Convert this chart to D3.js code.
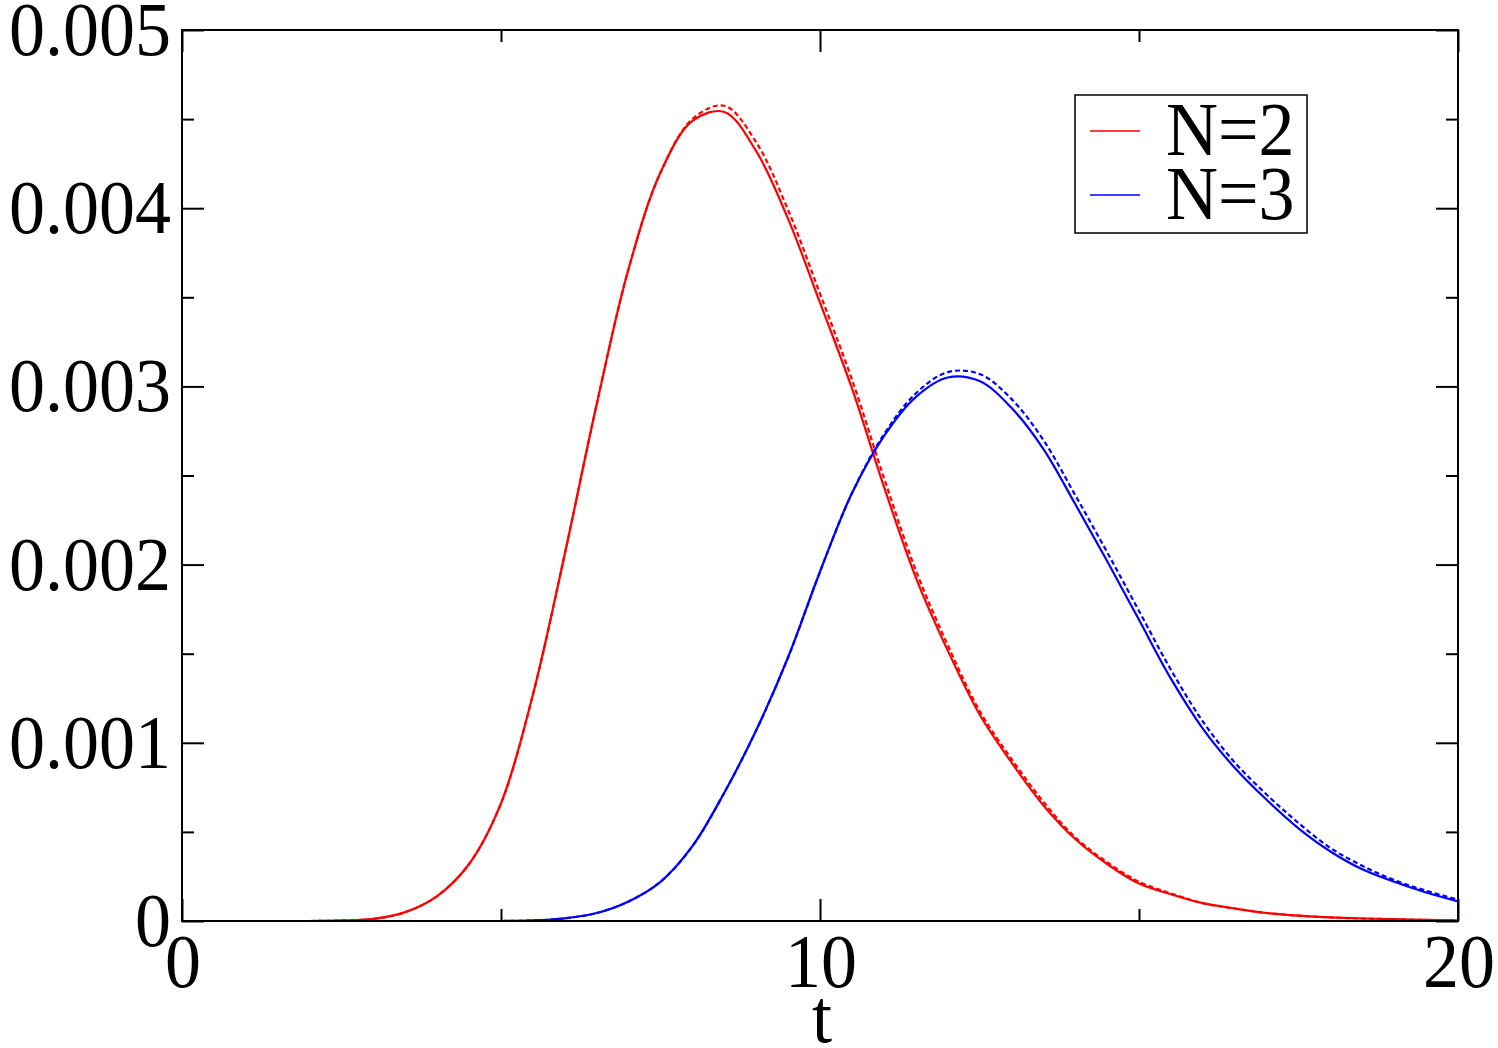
<!DOCTYPE html>
<html>
<head>
<meta charset="utf-8">
<script src="https://cdn.jsdelivr.net/npm/d3@7"></script>
<style>
  html, body { margin: 0; padding: 0; background: #fff; }
  svg { display: block; }
</style>
</head>
<body>
<div id="chart"></div>
<script>
// time grid (t) shared by all curves
const tValues = [0, 1, 2, 2.5, 3, 3.5, 4, 4.5, 5, 5.5, 6, 6.5, 7, 7.5, 8, 8.5, 9, 9.5, 10,
  10.5, 11, 11.5, 12, 12.5, 13, 13.5, 14, 14.5, 15, 15.5, 16, 16.5, 17, 17.5, 18, 18.5, 19, 19.5, 20];

// values in units of 1e-3
const n2Solid = [0, 0, 0, 0.003, 0.012, 0.05, 0.14, 0.32, 0.66, 1.27, 2.06, 2.9, 3.66, 4.2, 4.49, 4.54, 4.32, 3.94, 3.47,
  2.99, 2.44, 1.93, 1.52, 1.16, 0.89, 0.65, 0.46, 0.32, 0.21, 0.15, 0.1, 0.07, 0.045, 0.03, 0.02, 0.014, 0.01, 0.006, 0.004];
const n2Dashed = [0, 0, 0, 0.003, 0.012, 0.05, 0.14, 0.32, 0.66, 1.27, 2.06, 2.9, 3.66, 4.2, 4.5, 4.575, 4.37, 3.99, 3.52,
  3.04, 2.49, 1.97, 1.55, 1.18, 0.91, 0.67, 0.47, 0.33, 0.22, 0.155, 0.1, 0.07, 0.045, 0.03, 0.02, 0.014, 0.01, 0.006, 0.004];
const n3Solid = [0, 0, 0, 0, 0, 0, 0, 0, 0, 0.003, 0.015, 0.045, 0.11, 0.22, 0.42, 0.72, 1.07, 1.48, 1.96,
  2.4, 2.72, 2.94, 3.05, 3.03, 2.88, 2.65, 2.34, 2.02, 1.69, 1.36, 1.08, 0.86, 0.68, 0.52, 0.39, 0.29, 0.22, 0.16, 0.11];
const n3Dashed = [0, 0, 0, 0, 0, 0, 0, 0, 0, 0.003, 0.015, 0.045, 0.11, 0.22, 0.42, 0.72, 1.07, 1.48, 1.96,
  2.4, 2.73, 2.96, 3.08, 3.07, 2.93, 2.7, 2.39, 2.07, 1.74, 1.41, 1.12, 0.89, 0.71, 0.55, 0.41, 0.31, 0.23, 0.17, 0.12];

const xMajor = [0, 10, 20];
const xMinor = [5, 15];
const yMajor = [0, 0.001, 0.002, 0.003, 0.004, 0.005];
const yMinor = [0.0005, 0.0015, 0.0025, 0.0035, 0.0045];
const legendLabels = ["N=2", "N=3"];
const legendColors = ["#ff0000", "#0000ff"];

const W = 1498, H = 1048;
const margin = { top: 30, right: 40, bottom: 127, left: 182 };
const width = W - margin.left - margin.right;   // 1276
const height = H - margin.top - margin.bottom;  // 891
const fontFamily = "'Liberation Serif', 'DejaVu Serif', 'Times New Roman', serif";
const fontSize = 72;
const stretch = 1.07;

const svg = d3.select("#chart").append("svg").attr("width", W).attr("height", H);
const g = svg.append("g").attr("transform", `translate(${margin.left},${margin.top})`);

const x = d3.scaleLinear().domain([0, 20]).range([0, width]);
const y = d3.scaleLinear().domain([0, 0.005]).range([height, 0]);

// inward ticks on all four sides
function tickAxis(axisFn, scale, values, size, transform) {
  const a = g.append("g").attr("transform", transform || null)
    .call(axisFn(scale).tickValues(values).tickSize(size).tickFormat(""));
  a.select(".domain").remove();
  a.selectAll("line").attr("stroke", "#000").attr("stroke-width", 2);
}
tickAxis(d3.axisBottom, x, xMajor, -22, `translate(0,${height})`);
tickAxis(d3.axisBottom, x, xMinor, -12, `translate(0,${height})`);
tickAxis(d3.axisTop, x, xMajor, -22);
tickAxis(d3.axisTop, x, xMinor, -12);
tickAxis(d3.axisLeft, y, yMajor, -22);
tickAxis(d3.axisLeft, y, yMinor, -12);
tickAxis(d3.axisRight, y, yMajor, -22, `translate(${width},0)`);
tickAxis(d3.axisRight, y, yMinor, -12, `translate(${width},0)`);

// curves
const line = d3.line()
  .x((d, i) => x(tValues[i]))
  .y(d => y(d / 1000))
  .curve(d3.curveCatmullRom.alpha(0.5));

svg.append("defs").append("clipPath").attr("id", "plotclip")
  .append("rect").attr("width", width).attr("height", height);
const curves = g.append("g").attr("clip-path", "url(#plotclip)");

[[n2Dashed, legendColors[0], "5,3"], [n3Dashed, legendColors[1], "5,3"],
 [n2Solid, legendColors[0], null], [n3Solid, legendColors[1], null]].forEach(([vals, col, dash]) => {
  curves.append("path")
    .datum(vals)
    .attr("fill", "none")
    .attr("stroke", col)
    .attr("stroke-width", 2.2)
    .attr("stroke-dasharray", dash)
    .attr("d", line);
});

// frame
g.append("rect").attr("width", width).attr("height", height)
  .attr("fill", "none").attr("stroke", "#000").attr("stroke-width", 2);

// tick labels
function label(parent, px, py, txt, anchor) {
  parent.append("g").attr("transform", `translate(${px},${py}) scale(1,${stretch})`)
    .append("text")
    .attr("text-anchor", anchor)
    .attr("font-family", fontFamily)
    .attr("font-size", fontSize)
    .attr("fill", "#000")
    .text(txt);
}
const yFmt = d => d === 0 ? "0" : d3.format(".3f")(d);
yMajor.forEach(v => label(g, -11, y(v) + 25, yFmt(v), "end"));
xMajor.forEach(v => label(g, x(v) + 1, height + 66, d3.format("d")(v), "middle"));
label(g, width / 2 + 2, height + 121, "t", "middle");

// legend
const leg = g.append("g").attr("transform", `translate(${1075 - margin.left},${95 - margin.top})`);
leg.append("rect").attr("width", 232).attr("height", 138)
  .attr("fill", "#fff").attr("stroke", "#000").attr("stroke-width", 1.5);
legendLabels.forEach((lab, i) => {
  const ly = 36 + i * 64;
  leg.append("line").attr("x1", 15).attr("x2", 65).attr("y1", ly).attr("y2", ly)
    .attr("stroke", legendColors[i]).attr("stroke-width", 1.5);
  label(leg, 91, ly + 24, lab, "start");
});
</script>
</body>
</html>
